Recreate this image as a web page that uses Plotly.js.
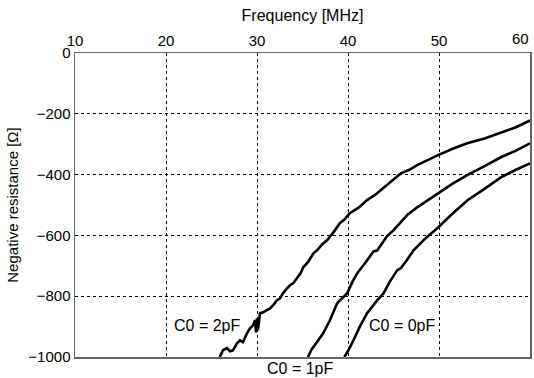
<!DOCTYPE html>
<html><head><meta charset="utf-8">
<script src="https://cdn.plot.ly/plotly-3.0.1.min.js"></script>
<style>body{margin:0;background:#fff}#c{width:534px;height:378px}</style>
</head><body><div id="c"></div>
<script>
// C0 = 2pF
const f2 = [25.9,26.26,26.7,27.03,27.36,27.8,28.13,28.46,28.9,29.23,29.56,29.78,29.89,30.0,30.1,30.33,30.66,31.1,31.43,31.76,32.2,32.53,32.86,33.3,33.63,34.0,34.8,35.1,35.6,36.2,36.6,37.2,37.7,38.4,39.1,39.6,40.2,41.2,42.1,43.0,43.9,44.8,45.8,46.7,47.6,48.7,49.9,51.5,53.1,55.0,56.8,58.4,60.0];
const r2 = [-1000,-978,-971,-981,-978,-955,-945,-951,-922,-906,-896,-879,-919,-873,-912,-856,-853,-846,-840,-830,-813,-807,-790,-774,-764,-757,-724,-704,-688,-659,-649,-628,-616,-590,-560,-548,-527,-508,-484,-466,-442,-421,-396,-385,-369,-352,-336,-315,-297,-281,-261,-245,-222];
// C0 = 1pF
const f1 = [35.6,36.0,36.5,37.27,38.0,38.8,39.1,39.9,40.5,41.0,41.9,42.8,43.2,44.3,45.0,45.7,46.6,47.6,48.7,49.9,51.5,53.1,55.0,56.8,58.4,60.0];
const r1 = [-1000,-975,-955,-922,-880,-824,-814,-791,-752,-725,-690,-653,-650,-602,-583,-560,-530,-508,-485,-462,-430,-402,-372,-343,-322,-297];
// C0 = 0pF
const f0 = [39.6,40.1,40.6,41.3,42.1,42.7,43.2,43.9,44.6,45.4,45.8,46.5,47.2,48.5,49.9,51.5,53.1,55.0,56.8,58.4,60.0];
const r0 = [-1000,-975,-945,-900,-856,-832,-814,-791,-752,-715,-708,-680,-649,-610,-574,-528,-485,-447,-409,-385,-363];

const xTicks = [10,20,30,40,50,60];
const xTickText = ['10','20','30','40','50','60'];
const yTicks = [0,-200,-400,-600,-800,-1000];
const yTickText = ['0','\u2212200','\u2212400','\u2212600','\u2212800','\u22121000'];
const labels = ['C0 = 2pF','C0 = 1pF','C0 = 0pF'];

const line = {color:'#000', width:2.6};
const traces = [
  {x:f2, y:r2, mode:'lines', line:line, name:labels[0]},
  {x:f1, y:r1, mode:'lines', line:line, name:labels[1]},
  {x:f0, y:r0, mode:'lines', line:line, name:labels[2]}
];
const fam = 'Liberation Sans, Arial, sans-serif';
const tickFont = {family:fam, size:15, color:'#000'};
const annFont = {family:fam, size:16, color:'#000'};
const layout = {
  width:534, height:378,
  margin:{l:75, r:4, t:53, b:21},
  showlegend:false,
  paper_bgcolor:'#fff', plot_bgcolor:'#fff',
  font:tickFont,
  xaxis:{
    side:'top', range:[10,60], tickvals:xTicks.slice(0,5), ticktext:xTickText.slice(0,5),
    showgrid:true, gridcolor:'#000', griddash:'dot', gridwidth:1,
    showline:true, linecolor:'#666', linewidth:1.5, mirror:true,
    ticks:'', zeroline:false, tickfont:tickFont,
    title:{text:'Frequency [MHz]', font:{family:fam, size:16, color:'#000'}, standoff:6}
  },
  yaxis:{
    range:[-1000,0], tickvals:yTicks, ticktext:yTickText,
    showgrid:true, gridcolor:'#000', griddash:'dot', gridwidth:1,
    showline:true, linecolor:'#666', linewidth:1.5, mirror:true,
    ticks:'', zeroline:false, tickfont:tickFont,
    title:{text:'Negative resistance [\u03A9]', font:{family:fam, size:15, color:'#000'}, standoff:6}
  },
  annotations:[
    {x:xTicks[5], y:1, xref:'x', yref:'paper', yanchor:'bottom', xanchor:'right', xshift:1, yshift:4, text:xTickText[5], showarrow:false, font:tickFont},
    {x:24.5, y:-896, xref:'x', yref:'y', text:labels[0], showarrow:false, font:annFont},
    {x:34.7, y:0, xref:'x', yref:'paper', yanchor:'top', yshift:-1, text:labels[1], showarrow:false, font:annFont},
    {x:45.9, y:-896, xref:'x', yref:'y', text:labels[2], showarrow:false, font:annFont}
  ]
};
Plotly.newPlot('c', traces, layout, {displayModeBar:false, staticPlot:true});
</script></body></html>
